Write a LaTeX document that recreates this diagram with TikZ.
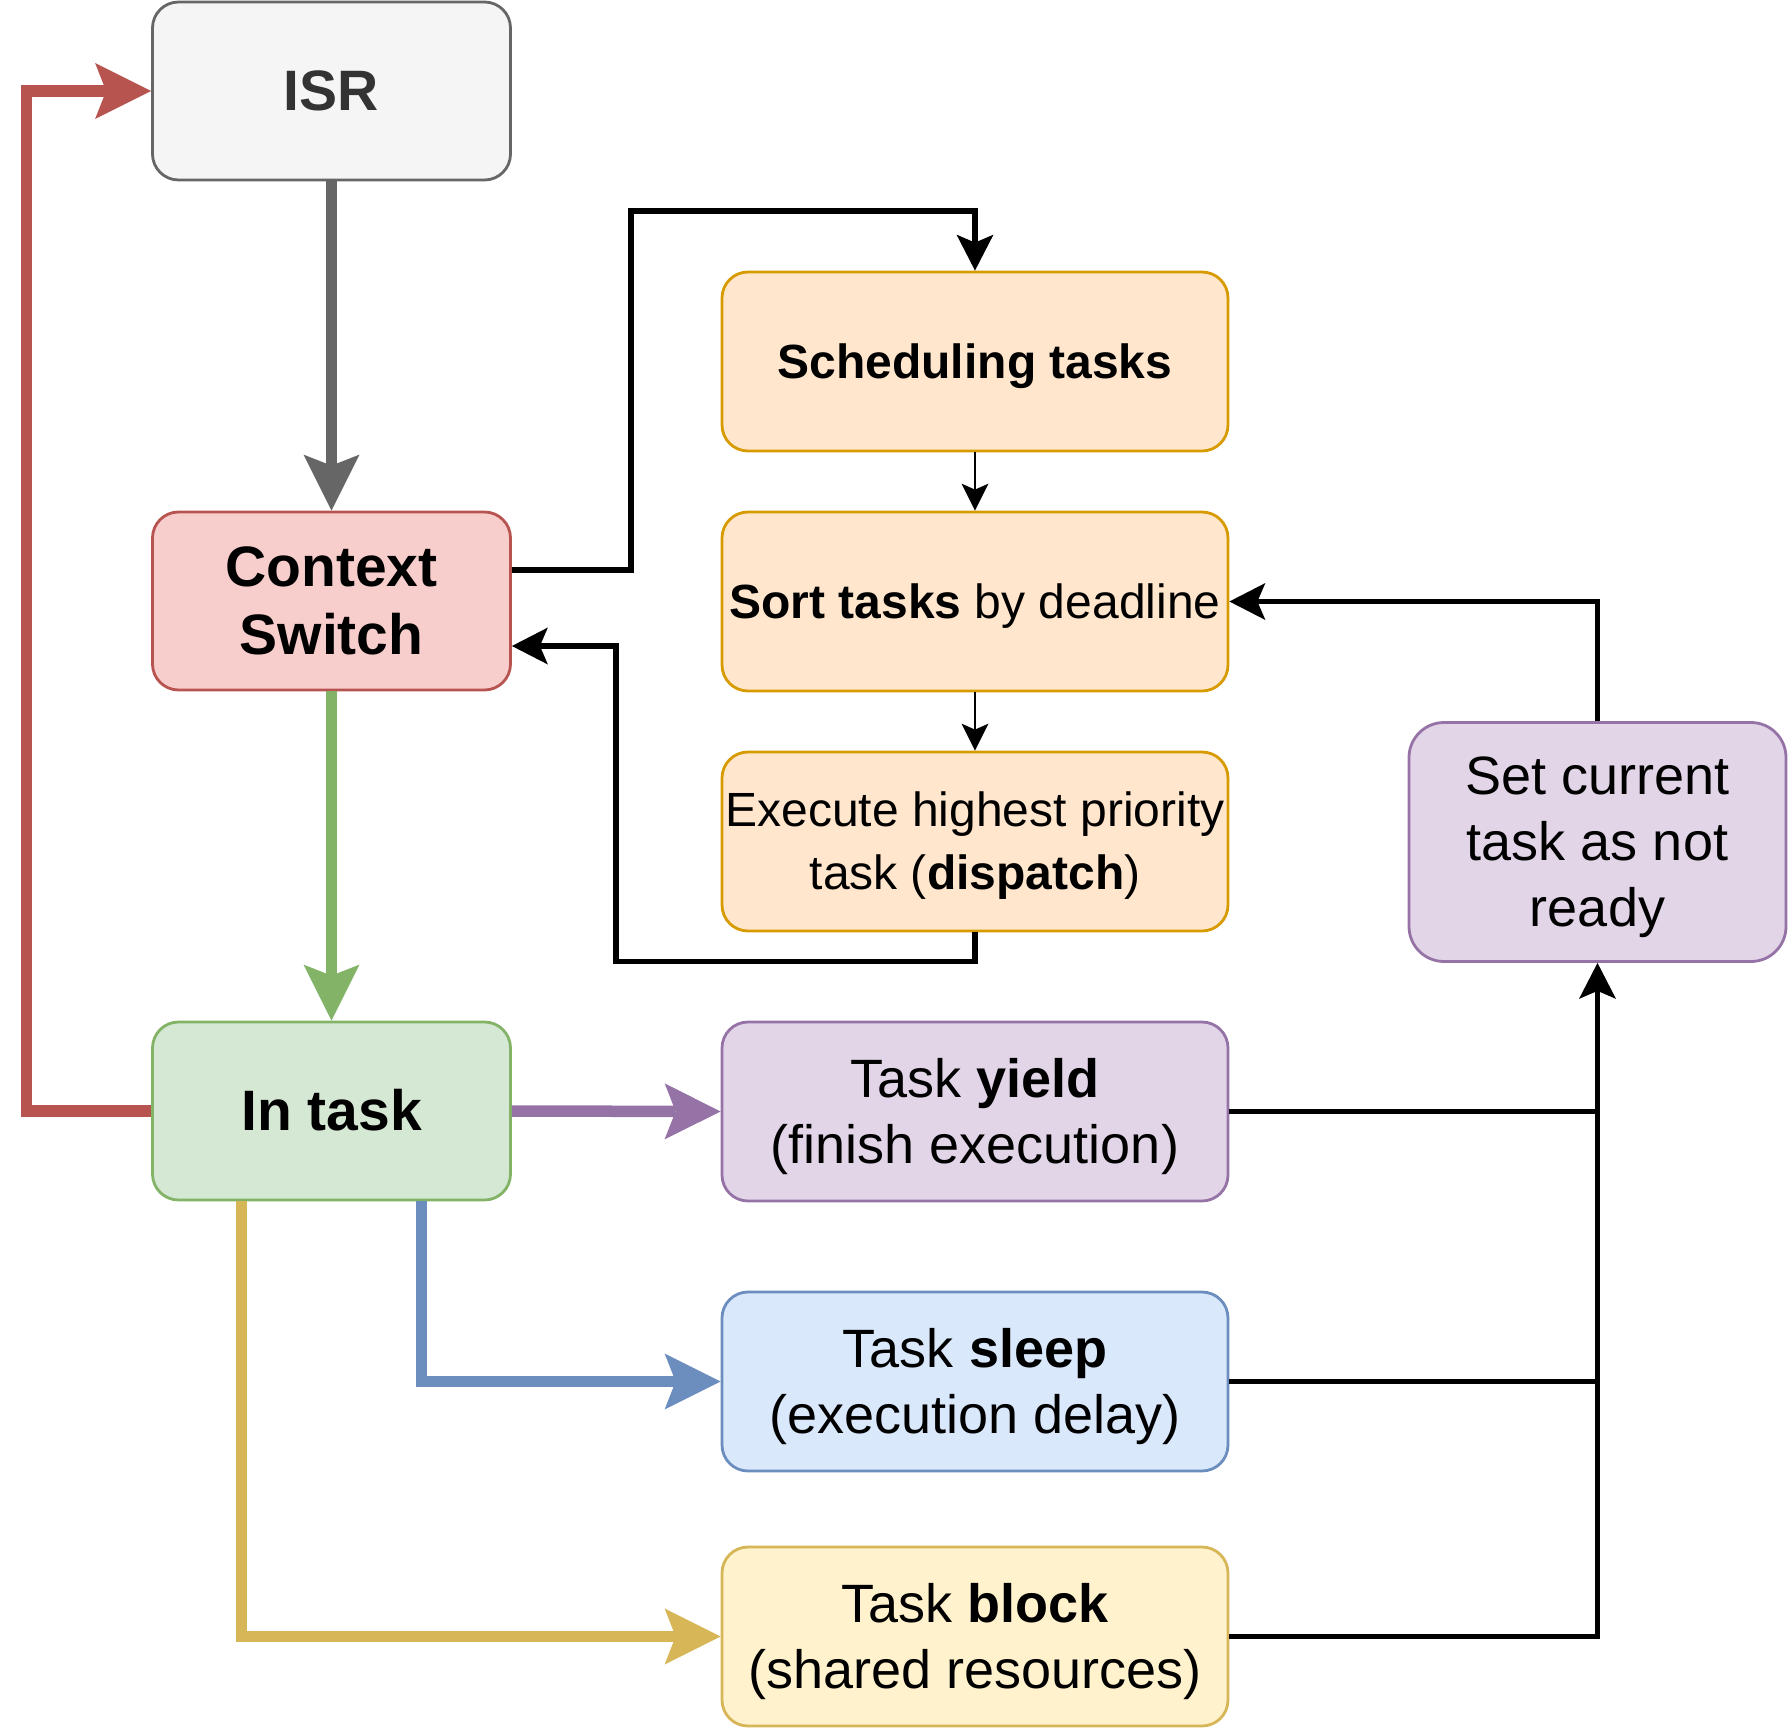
\documentclass[tikz,border=0pt]{standalone}
\usepackage{fontspec}
\setmainfont{Liberation Sans}
\usetikzlibrary{arrows.meta}
\definecolor{isrfill}{HTML}{F5F5F5}
\definecolor{isrline}{HTML}{666666}
\definecolor{isrtext}{HTML}{333333}
\definecolor{csfill}{HTML}{F8CECC}
\definecolor{csline}{HTML}{B85450}
\definecolor{itfill}{HTML}{D5E8D4}
\definecolor{itline}{HTML}{82B366}
\definecolor{orfill}{HTML}{FFE6CC}
\definecolor{orline}{HTML}{D79B00}
\definecolor{pufill}{HTML}{E1D5E7}
\definecolor{puline}{HTML}{9673A6}
\definecolor{blfill}{HTML}{DAE8FC}
\definecolor{blline}{HTML}{6C8EBF}
\definecolor{yefill}{HTML}{FFF2CC}
\definecolor{yeline}{HTML}{D6B656}
\newcommand\ds{\rule[-0.2535em]{0pt}{1.2em}}
\newcommand\dsx{\rule[-0.3035em]{0pt}{1.3em}}
\newcommand\bigfnt{\fontsize{57}{68.4}\selectfont\bfseries}
\newcommand\midfnt{\fontsize{54}{64.5}\selectfont}
\newcommand\orfnt{\fontsize{48}{57.6}\selectfont}
\newcommand\orfntx{\fontsize{48}{61}\selectfont}
\begin{document}
\begin{tikzpicture}[x=1pt,y=-1pt,
  box/.style={draw, line width=2.8pt, rounded corners=26pt, inner sep=0pt,
    align=center, anchor=center},
  leftbox/.style={box, minimum width=358pt, minimum height=178pt, font=\bigfnt},
  rightbox/.style={box, minimum width=506pt, minimum height=179pt},
  thk/.style={line width=11.5pt, -{Stealth[length=56pt,width=56pt,inset=11pt,line width=0pt]}},
  med/.style={line width=5.6pt, black, -{Stealth[length=36pt,width=37pt,inset=8pt,line width=0pt]}},
  medplain/.style={line width=5.6pt, black},
  thn/.style={line width=2.8pt, black, -{Stealth[length=27pt,width=27pt,inset=6pt,line width=0pt]}}
]
\useasboundingbox (0,0) rectangle (1788,1728);

% nodes
\node[leftbox, fill=isrfill, draw=isrline, text=isrtext] (isr) at (331.5,91) {\ds ISR};
\node[leftbox, fill=csfill, draw=csline] (cs) at (331.5,601) {\ds Context\\\ds Switch};
\node[leftbox, fill=itfill, draw=itline] (intask) at (331.5,1111) {\ds In task};

\node[rightbox, fill=orfill, draw=orline, font=\orfnt] (sched) at (975,361.5) {\ds\textbf{Scheduling tasks}};
\node[rightbox, fill=orfill, draw=orline, font=\orfnt] (sort) at (975,601.5) {\ds\textbf{Sort tasks} by deadline};
\node[rightbox, fill=orfill, draw=orline, font=\orfntx] (exec) at (975,841.5) {\dsx Execute highest priority\\\dsx task (\textbf{dispatch})};

\node[rightbox, fill=pufill, draw=puline, font=\midfnt] (yield) at (975,1111.5) {\ds Task \textbf{yield}\\\ds (finish execution)};
\node[rightbox, fill=blfill, draw=blline, font=\midfnt] (sleep) at (975,1381.5) {\ds Task \textbf{sleep}\\\ds (execution delay)};
\node[rightbox, fill=yefill, draw=yeline, font=\midfnt] (block) at (975,1636.5) {\ds Task \textbf{block}\\\ds (shared resources)};

\node[box, rounded corners=35pt, minimum width=377pt, minimum height=239pt, fill=pufill, draw=puline, font=\midfnt] (set) at (1597.5,842) {\ds Set current\\\ds task as not\\\ds ready};

% bend points
\coordinate (c1) at (631,211);
\coordinate (c2) at (616,961.5);

% colored connectors
\draw[thk, color=isrline] (isr.south) -- (cs.north);
\draw[thk, color=itline] (cs.south) -- (intask.north);
\draw[thk, color=csline] (intask.west) -- ++(-124.5,0) |- (isr.west);
\draw[thk, color=puline] (intask.east) -- (yield.west);
\draw[thk, color=blline] ([xshift=90pt]intask.south) |- (sleep.west);
\draw[thk, color=yeline] ([xshift=-90pt]intask.south) |- (block.west);

% black connectors
\draw[med] ([yshift=31pt]cs.east) -| (c1) -| (sched.north);
\draw[thn] (sched.south) -- (sort.north);
\draw[thn] (sort.south) -- (exec.north);
\draw[med] (exec.south) |- (c2) |- ([yshift=-45pt]cs.east);
\draw[med] (set.north) |- (sort.east);
\draw[medplain] (yield.east) -- (yield.east -| set.south);
\draw[medplain] (sleep.east) -- (sleep.east -| set.south);
\draw[med] (block.east) -| (set.south);
\end{tikzpicture}
\end{document}
